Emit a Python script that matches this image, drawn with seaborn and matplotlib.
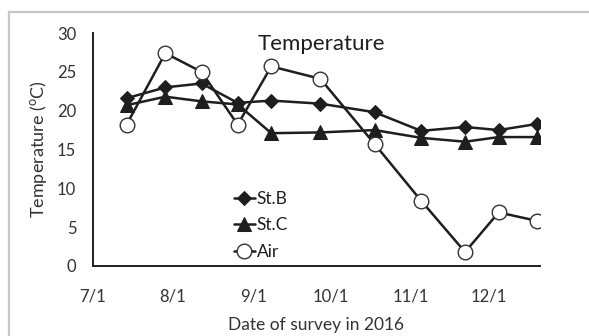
import matplotlib
matplotlib.use("Agg")
import matplotlib.pyplot as plt
from matplotlib.patches import Rectangle
import seaborn as sns
import pandas as pd

# Survey dates and temperatures (°C)
survey_dates = ["2016-07-14", "2016-07-29", "2016-08-12", "2016-08-26", "2016-09-08",
                "2016-09-27", "2016-10-18", "2016-11-05", "2016-11-22", "2016-12-05",
                "2016-12-20"]
st_b = [21.6, 23.0, 23.5, 21.0, 21.3, 20.9, 19.8, 17.4, 17.9, 17.5, 18.3]
st_c = [20.7, 21.8, 21.2, 20.8, 17.1, 17.2, 17.5, 16.5, 16.0, 16.6, 16.6]
air = [18.2, 27.4, 25.0, 18.2, 25.7, 24.1, 15.7, 8.4, 1.8, 6.9, 5.8]

tick_dates = ["2016-07-01", "2016-08-01", "2016-09-01", "2016-10-01", "2016-11-01", "2016-12-01"]
tick_labels = ["7/1", "8/1", "9/1", "10/1", "11/1", "12/1"]
y_ticks = [0, 5, 10, 15, 20, 25, 30]

sns.set_theme(style="white")
plt.rcParams["font.family"] = ["Lato", "DejaVu Sans"]
plt.rcParams["mathtext.fontset"] = "custom"
plt.rcParams["mathtext.rm"] = "Lato"

df = pd.DataFrame({
    "date": pd.to_datetime(survey_dates),
    "St.B": st_b,
    "St.C": st_c,
    "Air": air,
})

fig = plt.figure(figsize=(5.89, 3.36), dpi=100)
ax = fig.add_axes([93 / 589, 1 - 266 / 336, (540 - 93) / 589, (266 - 33) / 336])

line_color = "#1e1e1e"
sns.lineplot(data=df, x="date", y="St.B", ax=ax, color=line_color, lw=1.8,
             marker="D", markersize=7.5, markerfacecolor=line_color,
             markeredgecolor=line_color, label="St.B")
sns.lineplot(data=df, x="date", y="St.C", ax=ax, color=line_color, lw=1.8,
             marker="^", markersize=9.5, markerfacecolor=line_color,
             markeredgecolor=line_color, label="St.C")
sns.lineplot(data=df, x="date", y="Air", ax=ax, color=line_color, lw=1.8,
             marker="o", markersize=10.5, markerfacecolor="white",
             markeredgecolor="#333333", markeredgewidth=1.0, label="Air")

ax.set_xlim(pd.Timestamp("2016-07-01"), pd.Timestamp("2016-12-21"))
ax.set_ylim(0, 30)
ax.set_xticks(pd.to_datetime(tick_dates))
ax.set_xticklabels(tick_labels)
ax.set_yticks(y_ticks)

for s in ["top", "right"]:
    ax.spines[s].set_visible(False)
for s in ["left", "bottom"]:
    ax.spines[s].set_color("#1e1e1e")
    ax.spines[s].set_linewidth(1.4)

ax.tick_params(axis="both", direction="in", length=4, width=1.2, color="#1e1e1e",
               labelsize=12, labelcolor="#333333")
ax.tick_params(axis="x", pad=16)
ax.tick_params(axis="y", pad=12)

ax.set_xlabel("Date of survey in 2016", fontsize=12.5, color="#333333", labelpad=9)
ax.set_ylabel("Temperature ($^{\\mathrm{o}}$C)", fontsize=13, color="#333333", labelpad=6)

ax.text(0.51, 0.995, "Temperature", transform=ax.transAxes, ha="center", va="top",
        fontsize=16, color="#1e1e1e")

leg = ax.legend(loc="lower left", bbox_to_anchor=(0.3, -0.005), frameon=False,
                handlelength=1.2, handletextpad=0.1, labelspacing=0.62,
                fontsize=12.5, borderaxespad=0)
for t in leg.get_texts():
    t.set_color("#1e1e1e")

# Grey frame around the chart area
fig.patches.append(Rectangle((9 / 589, -0.2), 1.5, 1 - 12 / 336 + 0.2,
                             transform=fig.transFigure, fill=False,
                             edgecolor="#c8c8c8", linewidth=1.6, zorder=-1))

fig.savefig("out.png", dpi=100)
